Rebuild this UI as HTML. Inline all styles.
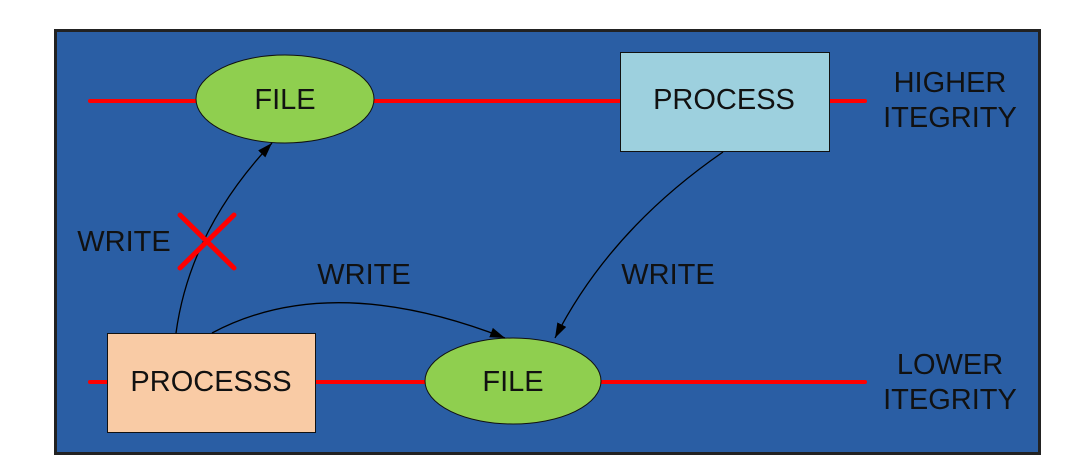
<html><head><style>body{margin:0;background:#fff}</style></head><body>
<svg width="1091" height="471" xmlns="http://www.w3.org/2000/svg" font-family="Liberation Sans, sans-serif">
<defs><marker id="a" markerWidth="16" markerHeight="12" refX="15" refY="6" orient="auto" markerUnits="userSpaceOnUse"><path d="M0,1 L15,6 L0,11 Z" fill="#000"/></marker></defs>
<rect x="55.5" y="30.5" width="984" height="423" fill="#2a5ea4" stroke="#222" stroke-width="3"/>
<line x1="90" y1="101" x2="865" y2="101" stroke="#f00" stroke-width="4" stroke-linecap="round"/>
<line x1="90" y1="382" x2="865" y2="382" stroke="#f00" stroke-width="4" stroke-linecap="round"/>
<ellipse cx="285" cy="99" rx="89" ry="44" fill="#8fcf4f" stroke="#111" stroke-width="1"/>
<text x="285" y="109" font-size="29" text-anchor="middle" fill="#111">FILE</text>
<rect x="620.5" y="52.5" width="209" height="99" fill="#9dd0de" stroke="#111"/>
<text x="724" y="109" font-size="29" text-anchor="middle" fill="#111">PROCESS</text>
<rect x="107.5" y="333.5" width="208" height="99" fill="#f9cba5" stroke="#111"/>
<text x="211" y="391" font-size="29" text-anchor="middle" fill="#111">PROCESSS</text>
<ellipse cx="513" cy="381" rx="88" ry="43" fill="#8fcf4f" stroke="#111"/>
<text x="513" y="391" font-size="29" text-anchor="middle" fill="#111">FILE</text>
<g fill="#111" font-size="29" text-anchor="middle">
<text x="950" y="92">HIGHER</text><text x="950" y="127">ITEGRITY</text>
<text x="950" y="374">LOWER</text><text x="950" y="409">ITEGRITY</text>
<text x="124" y="251">WRITE</text><text x="364" y="284">WRITE</text><text x="668" y="284">WRITE</text>
</g>
<path d="M176,333 Q190,230 272,143" fill="none" stroke="#000" stroke-width="1.3" marker-end="url(#a)"/>
<path d="M212,333 Q330,270 505,338" fill="none" stroke="#000" stroke-width="1.3" marker-end="url(#a)"/>
<path d="M723,152 Q610,230 555,338" fill="none" stroke="#000" stroke-width="1.3" marker-end="url(#a)"/>
<line x1="180" y1="215" x2="234" y2="268" stroke="#f00" stroke-width="5" stroke-linecap="round"/>
<line x1="234" y1="215" x2="180" y2="268" stroke="#f00" stroke-width="5" stroke-linecap="round"/>
</svg></body></html>
